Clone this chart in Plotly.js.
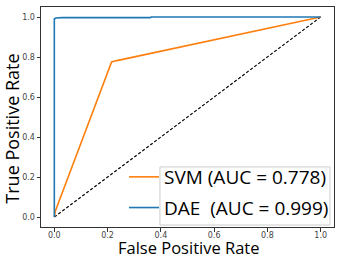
<!DOCTYPE html>
<html>
<head>
<meta charset="utf-8">
<script src="https://cdn.plot.ly/plotly-3.0.1.min.js"></script>
<style>html,body{margin:0;padding:0;background:#fff;}#chart{width:339px;height:259px;}</style>
</head>
<body>
<div id="chart"></div>
<script>
// ROC curve data
const svmFpr = [0, 0.004, 0.215, 0.235, 1.0];
const svmTpr = [0, 0.03, 0.775, 0.782, 1.0];
const daeFpr = [0, 0, 0.006, 0.03, 0.36, 0.365, 1.0];
const daeTpr = [0, 0.99, 0.995, 0.997, 0.997, 1.0, 1.0];
const chanceX = [0, 1];
const chanceY = [0, 1];
const seriesNames = ['SVM (AUC = 0.778)', 'DAE\u00a0 (AUC = 0.999)'];
const tickVals = [0, 0.2, 0.4, 0.6, 0.8, 1.0];
const xTitle = 'False Positive Rate';
const yTitle = 'True Positive Rate';

const traces = [
  {x: chanceX, y: chanceY, mode: 'lines', showlegend: false,
   line: {color: '#000', width: 1.2, dash: '3px,2px'}},
  {x: svmFpr, y: svmTpr, mode: 'lines', name: seriesNames[0], legendgroup: 'a',
   line: {color: '#ff7f0e', width: 1.6}},
  {x: daeFpr, y: daeTpr, mode: 'lines', name: seriesNames[1], legendgroup: 'b',
   line: {color: '#1f77b4', width: 1.6}}
];

const axisCommon = {
  range: [-0.05, 1.05], tickvals: tickVals, tickformat: '.1f',
  showgrid: false, zeroline: false, showline: true, mirror: true,
  linecolor: '#333', linewidth: 1, ticks: 'outside', ticklen: 3.5,
  tickcolor: '#333', tickwidth: 1,
  tickfont: {family: 'DejaVu Sans', size: 8, color: '#444'}
};

const layout = {
  width: 339, height: 259,
  margin: {l: 41, r: 5, t: 7, b: 32},
  paper_bgcolor: '#fff', plot_bgcolor: '#fff',
  xaxis: Object.assign({}, axisCommon, {ticklabelstandoff: -3}),
  yaxis: Object.assign({}, axisCommon),
  showlegend: true,
  legend: {
    x: 1, xanchor: 'right', y: 0, yanchor: 'bottom',
    xref: 'paper', yref: 'paper',
    bgcolor: 'rgba(0,0,0,0)', borderwidth: 0,
    traceorder: 'grouped', tracegroupgap: 3,
    font: {family: 'Open Sans', size: 19, color: '#000'}
  },
  annotations: [
    {text: xTitle, xref: 'paper', yref: 'paper', x: 0.502, y: -0.0945,
     xanchor: 'center', yanchor: 'middle', showarrow: false,
     font: {family: 'Open Sans', size: 16.5, color: '#000'}},
    {text: yTitle, xref: 'paper', yref: 'paper', x: -0.097, y: 0.445,
     xanchor: 'center', yanchor: 'middle', showarrow: false, textangle: -90,
     font: {family: 'Open Sans', size: 18, color: '#000'}}
  ],
  shapes: [{
    type: 'rect', xref: 'paper', yref: 'paper',
    x0: 0.406, x1: 0.986, y0: 0.009, y1: 0.273,
    line: {color: '#ccc', width: 1}, fillcolor: 'rgba(255,255,255,0.8)', layer: 'below'
  }]
};

Plotly.newPlot('chart', traces, layout, {staticPlot: true, displayModeBar: false});
</script>
</body>
</html>
